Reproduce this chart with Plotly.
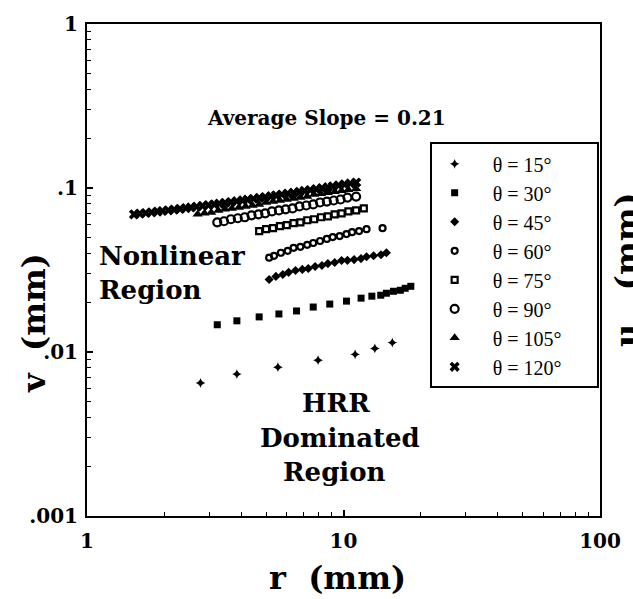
import plotly.graph_objects as go

# ---------------- data ----------------
r_15 = [2.77, 3.84, 5.55, 7.96, 11.1, 13.25, 15.5]
v_15 = [0.00647, 0.00733, 0.00808, 0.00891, 0.00968, 0.01051, 0.01142]

r_30 = [3.22, 3.84, 4.69, 5.60, 6.56, 7.62, 8.84, 10.27, 11.71, 12.9, 13.97, 14.7, 15.66, 16.65, 17.4, 18.3]
v_30 = [0.01466, 0.01549, 0.01637, 0.01706, 0.01779, 0.01880, 0.01960, 0.02043, 0.02130, 0.02190,
        0.02219, 0.02282, 0.02346, 0.02379, 0.02446, 0.02515]

r_45 = [5.13, 5.45, 5.80, 6.11, 6.50, 6.91, 7.29, 7.75, 8.24, 8.69, 9.24, 9.83, 10.36, 11.0, 11.7,
        12.3, 13.1, 14.0, 14.7]
v_45 = [0.0277, 0.0289, 0.0297, 0.0306, 0.0314, 0.0319, 0.0323, 0.0332, 0.0337, 0.0346, 0.0351,
        0.0361, 0.0362, 0.0366, 0.0371, 0.0381, 0.0386, 0.0392, 0.0403]

r_60 = [5.13, 5.36, 5.70, 6.06, 6.39, 6.79, 7.22, 7.62, 8.10, 8.61, 9.08, 9.66, 10.27, 10.8, 11.5,
        12.3, 14.2]
v_60 = [0.0376, 0.0386, 0.0403, 0.0414, 0.0432, 0.0438, 0.0450, 0.0462, 0.0475, 0.0489, 0.0502,
        0.0509, 0.0524, 0.0538, 0.0546, 0.0561, 0.0569]

r_75 = [4.69, 4.99, 5.31, 5.65, 6.01, 6.39, 6.79, 7.22, 7.68, 8.17, 8.69, 9.24, 9.83, 10.45, 11.2, 12.0]
v_75 = [0.0546, 0.0561, 0.0569, 0.0585, 0.0593, 0.0610, 0.0618, 0.0636, 0.0645, 0.0663, 0.0672,
        0.0691, 0.0701, 0.0720, 0.0730, 0.0751]

r_90 = [3.22, 3.42, 3.64, 3.87, 4.12, 4.38, 4.66, 4.95, 5.26, 5.60, 5.95, 6.33, 6.73, 7.16, 7.62,
        8.10, 8.61, 9.16, 9.74, 10.36, 11.2]
v_90 = [0.0618, 0.0627, 0.0645, 0.0654, 0.0663, 0.0681, 0.0691, 0.0701, 0.0720, 0.0730, 0.0741,
        0.0751, 0.0772, 0.0782, 0.0794, 0.0816, 0.0827, 0.0839, 0.0851, 0.0874, 0.0887]

r_105 = [2.70, 2.87, 3.05, 3.25, 3.45, 3.67, 3.91, 4.15, 4.42, 4.69, 4.99, 5.31, 5.65, 6.01, 6.39,
         6.79, 7.22, 7.68, 8.17, 8.69, 9.24, 9.83, 10.45, 11.2]
v_105 = [0.0691, 0.0701, 0.0710, 0.0730, 0.0741, 0.0751, 0.0761, 0.0772, 0.0782, 0.0794, 0.0816,
         0.0827, 0.0839, 0.0851, 0.0862, 0.0874, 0.0887, 0.0912, 0.0924, 0.0937, 0.0950, 0.0963,
         0.0977, 0.0990]

r_120 = [1.525, 1.607, 1.694, 1.786, 1.883, 1.967, 2.074, 2.186, 2.305, 2.430, 2.539, 2.676, 2.821,
         2.974, 3.135, 3.276, 3.453, 3.640, 3.837, 4.045, 4.227, 4.456, 4.697, 4.951, 5.220, 5.453,
         5.748, 6.060, 6.388, 6.734, 7.037, 7.418, 7.820, 8.244, 8.690, 9.080, 9.571, 10.09, 10.63,
         11.21]
v_120 = [0.0691, 0.0698, 0.0704, 0.0711, 0.0718, 0.0724, 0.0731, 0.0738, 0.0746, 0.0754, 0.0761,
         0.0769, 0.0778, 0.0786, 0.0795, 0.0803, 0.0812, 0.0821, 0.0831, 0.0840, 0.0850, 0.0860,
         0.0870, 0.0881, 0.0891, 0.0902, 0.0913, 0.0925, 0.0936, 0.0948, 0.0960, 0.0972, 0.0985,
         0.0998, 0.1011, 0.1024, 0.1038, 0.1052, 0.1066, 0.1080]

series_names = ["θ = 15°", "θ = 30°", "θ = 45°", "θ = 60°", "θ = 75°", "θ = 90°", "θ = 105°", "θ = 120°"]

x_tickvals = [1, 10, 100]
x_ticktext = ["1", "10", "100"]
y_tickvals = [0.001, 0.01, 0.1, 1]
y_ticktext = [".001", ".01", ".1", "1"]
minor_mult = [2, 3, 4, 5, 6, 7, 8, 9]

# ---------------- figure ----------------
SERIF = "Liberation Serif"   # regular text (legend)
SERIF_B = "DejaVu Serif"     # bold text (Liberation Serif bold falls back to sans here)

styles = [
    dict(symbol="star-diamond", size=7, color="black", line=dict(width=0)),
    dict(symbol="square", size=7, color="black", line=dict(width=0)),
    dict(symbol="diamond", size=7, color="black", line=dict(width=0)),
    dict(symbol="circle-open", size=6, color="black", line=dict(width=2.2, color="black")),
    dict(symbol="square-open", size=6, color="black", line=dict(width=2.2, color="black")),
    dict(symbol="circle-open", size=8, color="black", line=dict(width=2.2, color="black")),
    dict(symbol="triangle-up", size=9, color="black", line=dict(width=0)),
    dict(symbol="x", size=9, color="black", line=dict(width=0)),
]

data = [(r_15, v_15), (r_30, v_30), (r_45, v_45), (r_60, v_60),
        (r_75, v_75), (r_90, v_90), (r_105, v_105), (r_120, v_120)]

NB = "\u00a0"
fig = go.Figure()
for (xs, ys), name, st in zip(data, series_names, styles):
    fig.add_trace(go.Scatter(x=xs, y=ys, mode="markers", name=NB * 3 + name + NB * 6, marker=st))

W, H = 633, 599
L, R, T, B = 87, 22, 17, 83
pw, ph = W - L - R, H - T - B


def px(x):
    return (x - L) / pw


def py(y):
    return (H - B - y) / ph


axis_common = dict(
    type="log",
    showgrid=False,
    zeroline=False,
    showline=True,
    linecolor="black",
    linewidth=2,
    mirror=True,
    ticks="inside",
    ticklen=6,
    tickwidth=1.5,
    tickcolor="black",
    tickfont=dict(family=SERIF_B, size=20, color="black", weight="bold"),
)

x_minor = [m * d for d in [1, 10] for m in minor_mult]
y_minor = [m * d for d in [0.001, 0.01, 0.1] for m in minor_mult]

fig.update_xaxes(range=[0, 2], tickmode="array", tickvals=x_tickvals, ticktext=x_ticktext,
                 ticklabelstandoff=6,
                 minor=dict(ticks="inside", ticklen=4, tickwidth=1.2, tickcolor="black",
                            showgrid=False, tickmode="array", tickvals=x_minor),
                 **axis_common)
fig.update_yaxes(range=[-3, 0], tickmode="array", tickvals=y_tickvals, ticktext=y_ticktext,
                 ticklabelstandoff=3,
                 minor=dict(ticks="inside", ticklen=4, tickwidth=1.2, tickcolor="black",
                            showgrid=False, tickmode="array", tickvals=y_minor),
                 **axis_common)


def bold(s, fam=SERIF_B):
    return dict(family=fam, size=s, color="black", weight="bold")


annotations = [
    dict(text="Average Slope = 0.21", x=px(332), y=py(112), font=bold(20)),
    dict(text="Nonlinear", x=px(97), y=py(252), xanchor="left", font=bold(26)),
    dict(text="Region", x=px(97), y=py(287), xanchor="left", font=bold(26)),
    dict(text="HRR", x=px(341), y=py(401), font=bold(26)),
    dict(text="Dominated", x=px(345), y=py(437), font=bold(26)),
    dict(text="Region", x=px(340), y=py(471), font=bold(26)),
    dict(text="r  (mm)", x=px(343), y=py(579), font=bold(32)),
    dict(text="v  (mm)", x=px(33), y=py(320), textangle=-90, font=bold(32)),
    dict(text="u   (mm)", x=px(638), y=py(266), textangle=-90, font=bold(32)),
]
for a in annotations:
    a.update(xref="paper", yref="paper", showarrow=False)
    a.setdefault("xanchor", "center")
    a.setdefault("yanchor", "middle")

fig.update_layout(
    width=W, height=H,
    margin=dict(l=L, r=R, t=T, b=B),
    paper_bgcolor="white",
    plot_bgcolor="white",
    showlegend=True,
    legend=dict(
        x=px(437), y=py(137), xanchor="left", yanchor="top",
        bordercolor="black", borderwidth=2, bgcolor="white",
        font=dict(family=SERIF, size=20, color="black"),
        itemwidth=36,
        tracegroupgap=0,
    ),
    annotations=annotations,
)

fig.write_html("out.html")
